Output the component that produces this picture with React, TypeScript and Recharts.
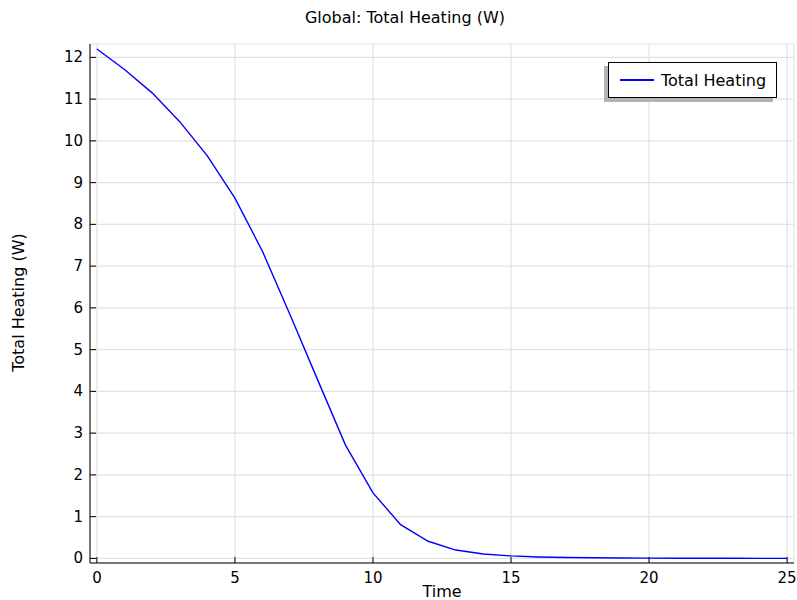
import React from "react";
import {
  LineChart,
  Line,
  XAxis,
  YAxis,
  CartesianGrid,
  Legend,
} from "recharts";

const times = [
  0, 1, 2, 3, 4, 5, 6, 7, 8, 9, 10, 11, 12, 13, 14, 15, 16, 17, 18, 19, 20, 21,
  22, 23, 24, 25,
];
const heating = [
  12.2, 11.71, 11.15, 10.46, 9.64, 8.63, 7.35, 5.83, 4.27, 2.72, 1.57, 0.81,
  0.41, 0.2, 0.105, 0.06, 0.035, 0.022, 0.014, 0.009, 0.006, 0.004, 0.003,
  0.002, 0.001, 0.001,
];
const xTicks = [0, 5, 10, 15, 20, 25];
const yTicks = [0, 1, 2, 3, 4, 5, 6, 7, 8, 9, 10, 11, 12];

const data = times.map((t, i) => ({ time: t, heating: heating[i] }));

const FONT = "'DejaVu Sans', Verdana, sans-serif";
const TICK_LEN = 6;

const BottomTick = (props: any) => {
  const { x, y, payload } = props;
  return (
    <g>
      <line x1={x} y1={y} x2={x} y2={y - TICK_LEN} stroke="#000" />
      <text x={x} y={y + 20} textAnchor="middle" fontSize={15} fontFamily={FONT} fill="#000">
        {payload.value}
      </text>
    </g>
  );
};

const TopTick = (props: any) => {
  const { x, y } = props;
  return <line x1={x} y1={y} x2={x} y2={y + TICK_LEN} stroke="#000" />;
};

const LeftTick = (props: any) => {
  const { x, y, payload } = props;
  return (
    <g>
      <line x1={x} y1={y} x2={x + TICK_LEN} y2={y} stroke="#000" />
      <text x={x - 7} y={y + 5} textAnchor="end" fontSize={15} fontFamily={FONT} fill="#000">
        {payload.value}
      </text>
    </g>
  );
};

const RightTick = (props: any) => {
  const { x, y } = props;
  return <line x1={x} y1={y} x2={x - TICK_LEN} y2={y} stroke="#000" />;
};

const LegendBox = () => (
  <div style={{ position: "relative", width: 173, height: 40, fontFamily: FONT }}>
    <div
      style={{
        position: "absolute",
        left: 0,
        top: 4,
        width: 169,
        height: 36,
        background: "#b3b3b3",
      }}
    />
    <div
      style={{
        position: "absolute",
        left: 4,
        top: 0,
        width: 167,
        height: 34,
        background: "#fff",
        border: "1px solid #000",
        display: "flex",
        alignItems: "center",
      }}
    >
      <svg width={50} height={10} style={{ display: "block" }}>
        <line x1={11} y1={5} x2={45} y2={5} stroke="#0000ff" strokeWidth={2} />
      </svg>
      <span style={{ fontSize: 16, color: "#000", marginLeft: 2 }}>Total Heating</span>
    </div>
  </div>
);

const labelStyle: React.CSSProperties = {
  position: "absolute",
  textAlign: "center",
  fontFamily: FONT,
  fontSize: 16,
  color: "#000",
  whiteSpace: "nowrap",
};

export default function App() {
  return (
    <div style={{ position: "absolute", left: 0, top: 0, width: 797, height: 600, background: "#fff" }}>
      <div style={{ ...labelStyle, left: 405 - 150, width: 300, top: 8 }}>
        Global: Total Heating (W)
      </div>
      <div style={{ ...labelStyle, left: 442 - 60, width: 120, top: 582 }}>Time</div>
      <div
        style={{
          ...labelStyle,
          left: 18 - 90,
          top: 303 - 10,
          width: 180,
          transform: "rotate(-90deg)",
        }}
      >
        Total Heating (W)
      </div>
      <LineChart
        width={797}
        height={600}
        data={data}
        margin={{ top: 44, right: 3, bottom: 0, left: 0 }}
        style={{ position: "absolute", left: 0, top: 0 }}
      >
        <CartesianGrid stroke="#e2e2e2" strokeWidth={1.2} />
        <XAxis
          dataKey="time"
          type="number"
          domain={[-0.25, 25.25]}
          ticks={xTicks}
          height={37}
          axisLine={{ stroke: "#000" }}
          tickLine={false}
          tickSize={0}
          tickMargin={0}
          tick={<BottomTick />}
          allowDataOverflow
        />
        <XAxis
          xAxisId="top"
          dataKey="time"
          orientation="top"
          type="number"
          domain={[-0.25, 25.25]}
          ticks={xTicks}
          height={0}
          axisLine={{ stroke: "#000" }}
          tickLine={false}
          tickSize={0}
          tickMargin={0}
          tick={<TopTick />}
          allowDataOverflow
        />
        <YAxis
          type="number"
          domain={[-0.11, 12.32]}
          ticks={yTicks}
          width={90}
          axisLine={{ stroke: "#000" }}
          tickLine={false}
          tickSize={0}
          tickMargin={0}
          tick={<LeftTick />}
          allowDataOverflow
        />
        <YAxis
          yAxisId="right"
          orientation="right"
          type="number"
          domain={[-0.11, 12.32]}
          ticks={yTicks}
          width={0}
          axisLine={{ stroke: "#000" }}
          tickLine={false}
          tickSize={0}
          tickMargin={0}
          tick={<RightTick />}
          allowDataOverflow
        />
        <Legend
          layout="horizontal"
          verticalAlign="middle"
          align="center"
          wrapperStyle={{ position: "absolute", left: 604, top: 62, width: 175 }}
          content={() => <LegendBox />}
        />
        <Line
          xAxisId="top"
          yAxisId="right"
          dataKey="heating"
          stroke="none"
          dot={false}
          activeDot={false}
          legendType="none"
          isAnimationActive={false}
        />
        <Line
          dataKey="heating"
          name="Total Heating"
          stroke="#0000ff"
          strokeWidth={1.4}
          dot={false}
          activeDot={false}
          type="linear"
          isAnimationActive={false}
        />
      </LineChart>
    </div>
  );
}
